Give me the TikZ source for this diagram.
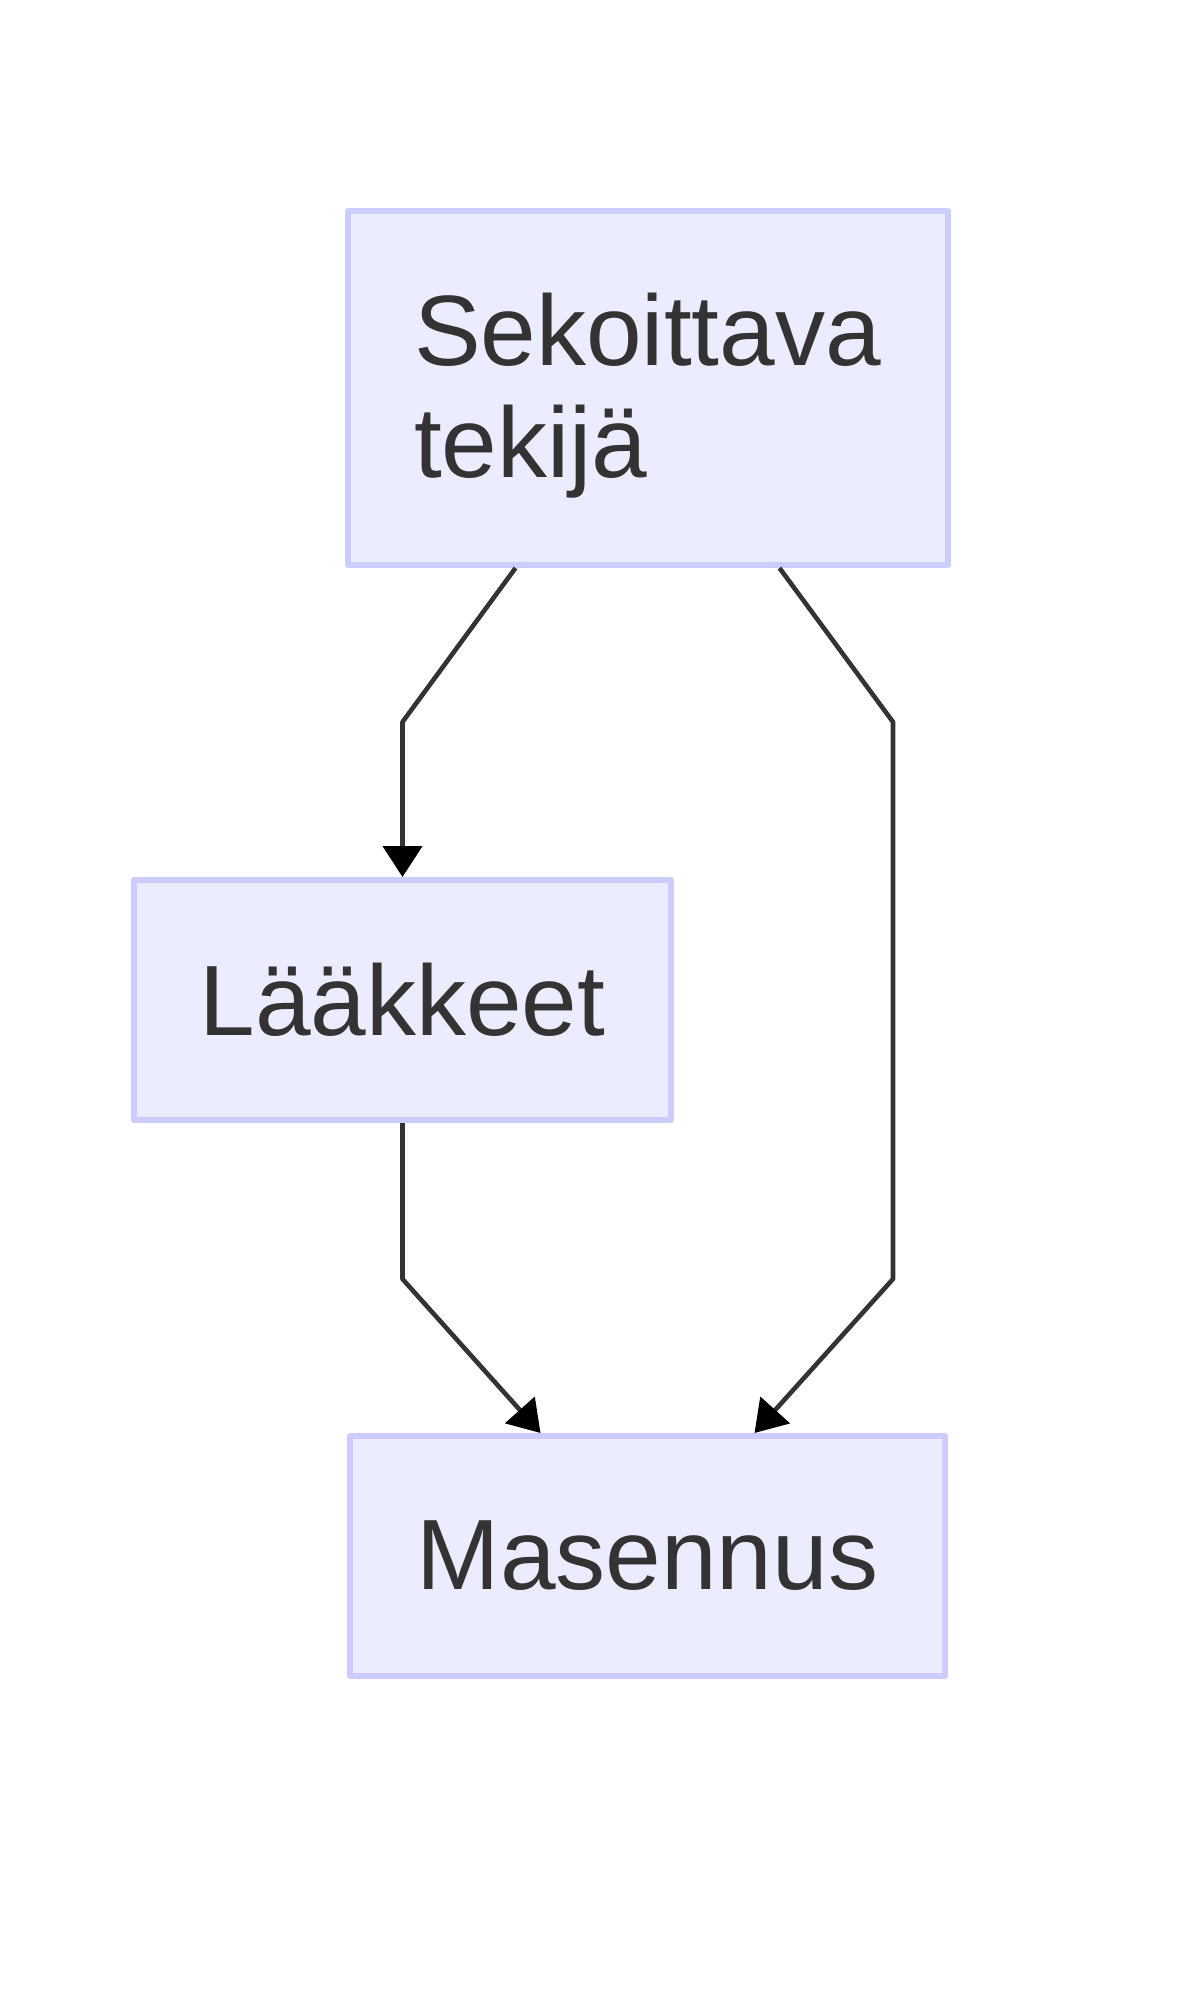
\documentclass[tikz,border=0pt]{standalone}
\usepackage{fontspec}
\setmainfont{Liberation Sans}
\usetikzlibrary{arrows.meta}
\definecolor{boxfill}{HTML}{ECECFF}
\definecolor{boxline}{HTML}{CCCCFF}
\definecolor{ink}{HTML}{333333}
\begin{document}
\begin{tikzpicture}[x=0.5pt, y=-0.5pt, >={Triangle[length=15.5pt,width=19.5pt,color=black]}, line join=round,
		font=\fontsize{50}{56}\selectfont,
		box/.style={draw=boxline, fill=boxfill, line width=3pt, text=ink, inner sep=0pt, align=left},
		edge/.style={draw=ink, line width=2.3pt, ->}]
	\useasboundingbox (0,0) rectangle (1200,2013);
	\def\ytop{722} \def\ybot{1279} % knees of the connectors
	\def\xright{893}
	
	\node[box, minimum width=300pt, minimum height=177pt, text depth=2.5pt] (sek) at (647.5,388) {Sekoittava\\tekijä};
	\node[box, minimum width=268.5pt, minimum height=120pt] (lak) at (402.5,1000) {Lääkkeet};
	\node[box, minimum width=297.5pt, minimum height=120pt] (mas) at (647.5,1556) {Masennus};
	
	\draw[edge] ([xshift=-66pt]sek.south) -- (lak.north |- 0,\ytop) -- (lak.north);
	\draw[edge] (lak.south) -- (lak.south |- 0,\ybot) -- ([xshift=-53.5pt]mas.north);
	\draw[edge] ([xshift=66pt]sek.south) -- (\xright,\ytop) -- (\xright,\ybot) -- ([xshift=53.5pt]mas.north);
\end{tikzpicture}
\end{document}
